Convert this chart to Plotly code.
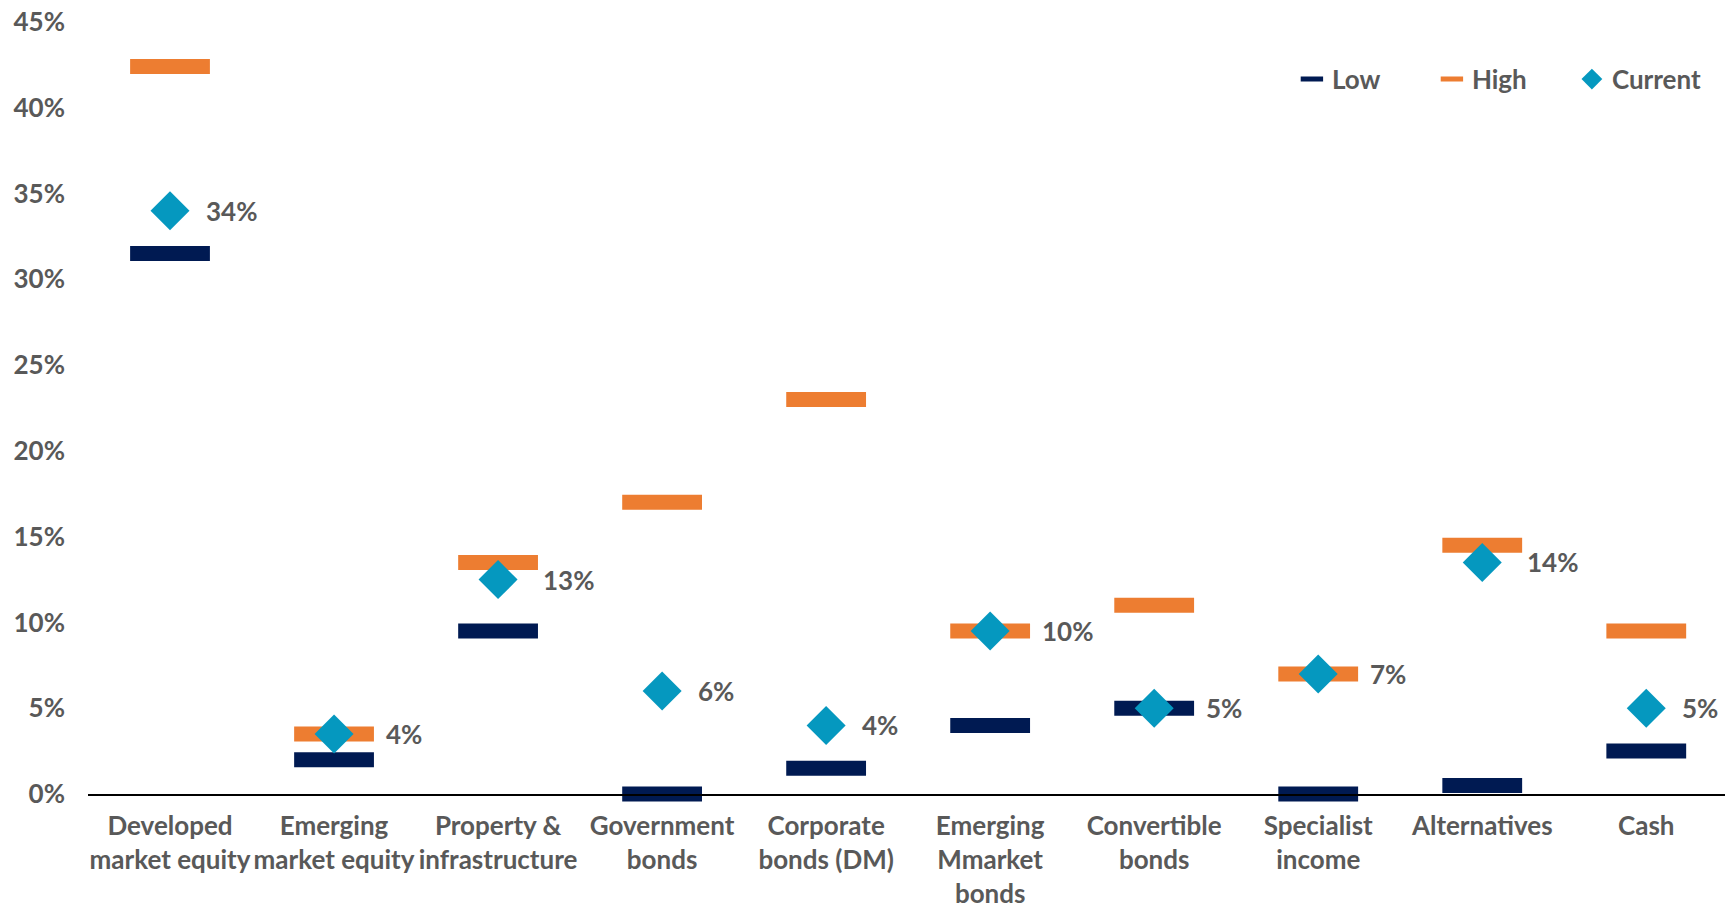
import plotly.graph_objects as go

categories = ["Developed<br>market equity", "Emerging<br>market equity", "Property &<br>infrastructure",
              "Government<br>bonds", "Corporate<br>bonds (DM)", "Emerging<br>Mmarket<br>bonds",
              "Convertible<br>bonds", "Specialist<br>income", "Alternatives", "Cash"]
low = [31.5, 2.0, 9.5, 0.0, 1.5, 4.0, 5.0, 0.0, 0.5, 2.5]
high = [42.4, 3.5, 13.5, 17.0, 23.0, 9.5, 11.0, 7.0, 14.5, 9.5]
current = [34.0, 3.5, 12.5, 6.0, 4.0, 9.5, 5.0, 7.0, 13.5, 5.0]
current_labels = ["34%", "4%", "13%", "6%", "4%", "10%", "5%", "7%", "14%", "5%"]
y_ticks = [0, 5, 10, 15, 20, 25, 30, 35, 40, 45]
y_tick_labels = [f"{v}%" for v in y_ticks]

FONT = "Lato"
GREY = "#595959"
FS = 26

fig = go.Figure()
fig.add_trace(go.Scatter(
    x=categories, y=low, name="Low", mode="markers",
    marker=dict(symbol="line-ew", size=57, color="#001A52",
                line=dict(color="#001A52", width=15)),
    cliponaxis=False, hoverinfo="skip"))
fig.add_trace(go.Scatter(
    x=categories, y=high, name="High", mode="markers",
    marker=dict(symbol="line-ew", size=57, color="#ED7D31",
                line=dict(color="#ED7D31", width=15)),
    cliponaxis=False, hoverinfo="skip"))
fig.add_trace(go.Scatter(
    x=categories, y=current, name="Current", mode="markers",
    marker=dict(symbol="diamond", size=30, color="#0598BF"),
    cliponaxis=False, hoverinfo="skip"))

# data labels: pushed clear of a range bar when the marker sits on one
for c, v, t, lo, hi in zip(categories, current, current_labels, low, high):
    gap = min(abs(v - lo), abs(v - hi))
    shift = 50 if gap < 0.6 else (43 if gap < 1.6 else 34)
    fig.add_annotation(x=c, y=v, text=t, showarrow=False, xanchor="left", yanchor="middle",
                       xshift=shift, font=dict(family=FONT, size=FS, color=GREY, weight="bold"))

fig.update_layout(
    width=1725, height=911,
    margin=dict(l=88, r=0, t=22, b=117),
    plot_bgcolor="white", paper_bgcolor="white",
    font=dict(family=FONT, size=FS, color=GREY, weight="bold"),
    showlegend=True,
    legend=dict(orientation="h", x=0.992, xanchor="right", y=0.926, yanchor="middle",
                font=dict(family=FONT, size=FS, color=GREY, weight="bold"),
                itemwidth=30, entrywidth=95, bgcolor="rgba(0,0,0,0)"),
)
fig.update_xaxes(
    range=[-0.5, 9.48], automargin=False,
    showgrid=False, showline=True, linecolor="black", linewidth=2,
    ticks="", tickfont=dict(family=FONT, size=FS, color=GREY, weight="bold"),
    zeroline=False, ticklabelstandoff=8,
)
fig.update_yaxes(
    range=[0, 45], tickvals=y_ticks, ticktext=y_tick_labels, automargin=False,
    showgrid=False, zeroline=False, showline=False,
    tickfont=dict(family=FONT, size=FS, color=GREY, weight="bold"),
    ticklabelstandoff=22,
)

fig.write_html("out.html")
